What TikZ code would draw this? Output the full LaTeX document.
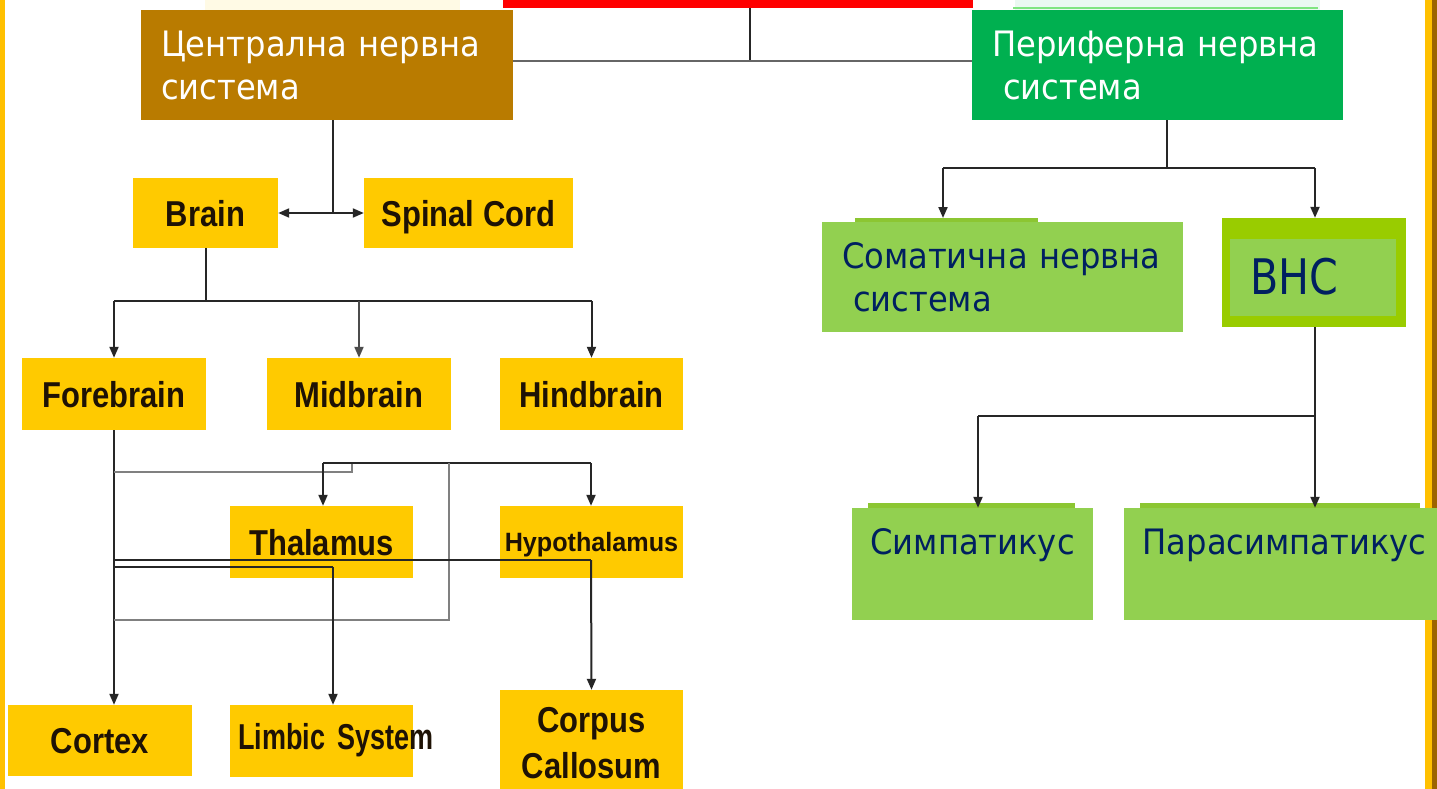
\documentclass[tikz,border=0pt]{standalone}
\usepackage{fontspec}
\setmainfont{DejaVu Sans}
\newfontfamily\cyrf{DejaVu Sans}[FakeStretch=0.92]
\newfontfamily\cyrv{DejaVu Sans}[FakeStretch=0.84]
\newfontfamily\latb{Liberation Sans}[FakeStretch=0.86]
\newfontfamily\latn{Liberation Sans}[FakeStretch=0.75]
\newfontfamily\lath{Liberation Sans}[FakeStretch=0.95]
\usetikzlibrary{arrows.meta,calc}
\definecolor{gold}{RGB}{255,202,0}
\definecolor{cnsc}{RGB}{185,123,0}
\definecolor{pnsc}{RGB}{0,176,80}
\definecolor{lgreen}{RGB}{146,208,80}
\definecolor{ygreen}{RGB}{153,204,0}
\definecolor{ghostg}{RGB}{140,198,50}
\definecolor{navy}{RGB}{0,32,96}
\definecolor{bordery}{RGB}{255,192,0}
\definecolor{borderb}{RGB}{156,101,0}
\definecolor{txtdark}{RGB}{30,18,5}
\tikzset{
  ybox/.style={fill=gold, draw=none, inner sep=0pt, text=txtdark,
    font=\latb\bfseries\fontsize{36}{46}\selectfont, align=center,
    text height=26pt, text depth=0pt},
  cbox/.style={draw=none, inner ysep=0pt, inner xsep=20pt, align=left,
    font=\cyrf\fontsize{35}{43}\selectfont},
  conn/.style={draw=black!85, line width=2pt},
  gconn/.style={draw=black!50, line width=2pt},
  arr/.style={-{Triangle[length=11pt,width=9pt]}},
  darr/.style={{Triangle[length=11pt,width=9pt]}-{Triangle[length=11pt,width=9pt]}}
}
\begin{document}
\begin{tikzpicture}[x=1pt,y=-1pt]
\useasboundingbox (0,0) rectangle (1437,789);
\fill[white] (0,0) rectangle (1437,789);
% faint ghost shapes
\fill[gold!10] (205,0) rectangle (460,11);
\fill[pnsc!8] (1015,0) rectangle (1320,11);
\draw[green!80!black!50, line width=1.5pt] (1013,8) -- (1318,8);
% top red bar
\node[fill=red, minimum width=470pt, minimum height=8pt, inner sep=0pt] (root) at (738,4) {};
% CNS / PNS
\node[cbox, fill=cnsc, text=white, minimum height=110pt, text width=332pt] (cns) at (327,65)
  {Централна нервна\\система};
\node[cbox, fill=pnsc, text=white, minimum height=110pt, text width=331pt] (pns) at (1157.5,65)
  {Периферна нервна\\\hspace*{11pt}система};
\coordinate (j0) at (750,61);
\draw[conn] (root.south -| j0) -- (j0);
\draw[conn, draw=black!60] (cns.east |- j0) -- (pns.west |- j0);
% Brain / Spinal cord
\node[ybox, minimum width=145pt, minimum height=70pt] (brain) at (205.5,213) {Brain};
\node[ybox, minimum width=209pt, minimum height=70pt] (spinal) at (468.5,213) {Spinal Cord};
\coordinate (j1) at (333,213);
\draw[conn] (cns.south -| j1) -- (j1);
\draw[conn, darr] (brain.east) -- (spinal.west);
% Fore / Mid / Hind
\node[ybox, minimum width=184pt, minimum height=72pt] (fore) at (114,394) {Forebrain};
\node[ybox, minimum width=184pt, minimum height=72pt] (mid) at (359,394) {Midbrain};
\node[ybox, minimum width=183pt, minimum height=72pt] (hind) at (591.5,394) {Hindbrain};
\coordinate (j2) at (206,301);
\draw[conn] (brain.south -| j2) -- (j2);
\draw[conn] (fore.north |- j2) -- (hind.north |- j2);
\draw[conn, arr] (fore.north |- j2) -- (fore.north);
\draw[conn, arr, draw=black!70] (mid.north |- j2) -- (mid.north);
\draw[conn, arr] (hind.north |- j2) -- (hind.north);
% Thalamus / Hypothalamus
\node[ybox, minimum width=183pt, minimum height=72pt] (thal) at (321.5,542) {Thalamus};
\node[ybox, minimum width=183pt, minimum height=72pt, text height=19pt,
  font=\lath\bfseries\fontsize{26.5}{30}\selectfont] (hypo) at (591.5,542) {Hypothalamus};
% Cortex / Limbic / Corpus
\node[ybox, minimum width=184pt, minimum height=71pt] (cortex) at (100,740.5) {Cortex};
\node[ybox, minimum width=183pt, minimum height=72pt, text width=167pt, inner xsep=8pt,
  align=left, text depth=10pt, font=\latn\bfseries\fontsize{36}{40}\selectfont] (limbic) at (321.5,741) {\mbox{Limbic System}};
\node[ybox, minimum width=183pt, minimum height=104pt, text height=72pt, text depth=0pt] (corpus) at (591.5,742) {Corpus\\Callosum};
% connectors of forebrain
\coordinate (fx) at (114,430);
\draw[conn, arr] (fore.south -| fx) -- (cortex.north -| fx);
\coordinate (g1) at (352,472);
\coordinate (t1) at (323,463);
\coordinate (t2) at (591,463);
\coordinate (v1) at (449,463);
\coordinate (v2) at (449,620);
\draw[gconn] (fx |- g1) -- (g1) -- (g1 |- t1);
\draw[conn] (t1) -- (t2);
\draw[conn, arr] (t1) -- (t1 |- thal.north);
\draw[conn, arr] (t2) -- (t2 |- hypo.north);
\draw[gconn] (v1) -- (v2) -- (fx |- v2);
\coordinate (c1) at (591,560);
\draw[conn] (fx |- c1) -- (c1);
\draw[conn, arr] (c1) -- (corpus.north);
\coordinate (l1) at (333,567);
\draw[conn] (fx |- l1) -- (l1);
\draw[conn, arr] (l1) -- (l1 |- limbic.north);
% Right side
\fill[ghostg] (855,218) rectangle (1038,226);
\node[cbox, fill=lgreen, text=navy, minimum height=110pt, text width=321pt] (som) at (1002.5,277)
  {Соматична нервна\\\hspace*{11pt}система};
\node[fill=ygreen, minimum width=184pt, minimum height=109pt, inner sep=0pt] (vns) at (1314,272.5) {};
\node[fill=lgreen, minimum width=166pt, minimum height=77pt, inner xsep=20pt, inner ysep=0pt,
  text width=126pt, align=left, text=navy, font=\cyrv\fontsize{49}{50}\selectfont] (vnsi) at (1313,277) {ВНС};
\coordinate (j3) at (1167,168);
\coordinate (s1) at (943,168);
\coordinate (s2) at (1315,168);
\draw[conn] (pns.south -| j3) -- (j3);
\draw[conn] (s1) -- (s2);
\draw[conn, arr] (s1) -- (s1 |- 0,218);
\draw[conn, arr] (s2) -- (vns.north -| s2);
\coordinate (j4) at (1315,416);
\coordinate (p1) at (978,416);
\draw[conn] (vns.south -| j4) -- (j4) -- (p1);
\fill[ghostg] (868,503) rectangle (1075,511);
\fill[ghostg] (1140,503) rectangle (1420,511);
\node[fill=lgreen, minimum width=241pt, minimum height=112pt, inner sep=0pt] (simp) at (972.5,564) {};
\draw[conn, arr] (p1) -- (p1 |- simp.north);
% borders
\fill[bordery] (0,0) rectangle (5,789);
\fill[bordery] (1425,0) rectangle (1432,789);
\fill[borderb] (1432,0) rectangle (1437,789);
\node[fill=lgreen, minimum width=313pt, minimum height=112pt, inner sep=0pt] (para) at (1280.5,564) {};
\draw[conn, arr] (j4) -- (j4 |- para.north);
\node[text=navy, font=\cyrf\fontsize{35}{36}\selectfont, inner sep=0pt] (simt) at (972.5,545) {Симпатикус};
\node[text=navy, font=\cyrf\fontsize{35}{36}\selectfont, inner sep=0pt] (parat) at (1284.5,545) {Парасимпатикус};
\end{tikzpicture}
\end{document}
